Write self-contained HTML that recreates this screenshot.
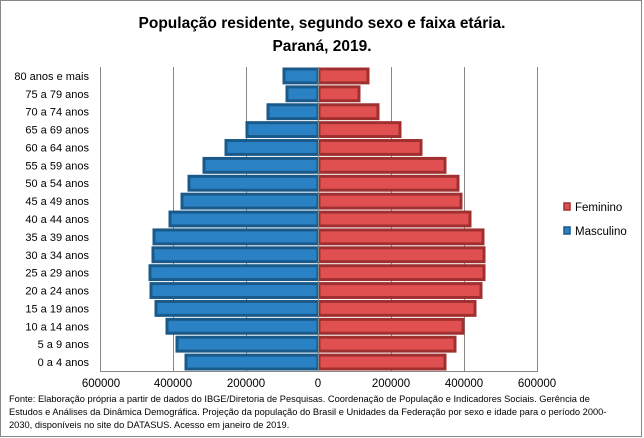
<!DOCTYPE html>
<html><head><meta charset="utf-8"><style>
body{margin:0;background:#fff}
svg{display:block;font-family:"Liberation Sans",sans-serif}
</style></head><body>
<svg width="644" height="438" viewBox="0 0 644 438">
<rect x="0.5" y="0.5" width="641" height="436" fill="#fff" stroke="#888"/>
<text x="322" y="28" text-anchor="middle" font-size="15.5" font-weight="bold">População residente, segundo sexo e faixa etária.</text>
<text x="322" y="51" text-anchor="middle" font-size="15.5" font-weight="bold">Paraná, 2019.</text>
<g stroke="#888" stroke-width="1">
<line x1="100.5" y1="67" x2="100.5" y2="371"/>
<line x1="173.5" y1="67" x2="173.5" y2="371"/>
<line x1="246.5" y1="67" x2="246.5" y2="371"/>
<line x1="391.5" y1="67" x2="391.5" y2="371"/>
<line x1="464.5" y1="67" x2="464.5" y2="371"/>
<line x1="537.5" y1="67" x2="537.5" y2="371"/>
<line x1="100" y1="371.5" x2="538" y2="371.5"/>
</g>
<g id="bars" stroke-width="3"></g>
<line x1="318.5" y1="67" x2="318.5" y2="371" stroke="#888"/>
<g id="labels" font-size="11" text-anchor="end"></g>
<g font-size="11.5" text-anchor="middle">
<text x="101" y="387">600000</text><text x="173" y="387">400000</text><text x="246" y="387">200000</text>
<text x="318" y="387">0</text><text x="391" y="387">200000</text><text x="464" y="387">400000</text><text x="537" y="387">600000</text>
</g>
<rect x="564" y="203" width="6" height="7" fill="#e05050" stroke="#a03030" stroke-width="1.5"/>
<text x="575" y="211" font-size="11.5">Feminino</text>
<rect x="564" y="227" width="6" height="7" fill="#2a82c4" stroke="#1a5a8a" stroke-width="1.5"/>
<text x="575" y="235" font-size="11.5">Masculino</text>
<g font-size="9.3">
<text x="9" y="402">Fonte:  Elaboração própria a partir de dados do  IBGE/Diretoria de Pesquisas. Coordenação de População e Indicadores Sociais. Gerência de</text>
<text x="9" y="415">Estudos e Análises da Dinâmica Demográfica. Projeção da população do Brasil e Unidades da Federação por sexo e idade para o período 2000-</text>
<text x="9" y="428">2030, disponíveis no site do DATASUS. Acesso em  janeiro de 2019.</text>
</g>
</svg>
<script>
(function(){
var labs=["80 anos e mais","75 a 79 anos","70 a 74 anos","65 a 69 anos","60 a 64 anos","55 a 59 anos","50 a 54 anos","45 a 49 anos","40 a 44 anos","35 a 39 anos","30 a 34 anos","25 a 29 anos","20 a 24 anos","15 a 19 anos","10 a 14 anos","5 a 9 anos","0 a 4 anos"];
var m=[284,287,268,247,226,204,189,182,170,154,153,150,151,156,167,177,186];
var f=[368,359,378,400,421,445,458,461,470,483,484,484,481,475,463,455,445];
var ns="http://www.w3.org/2000/svg",b=document.getElementById("bars"),l=document.getElementById("labels");
var y0=67,band=(371-67)/17;
for(var i=0;i<17;i++){
 var y=y0+i*band+2,h=band-4;
 var r=document.createElementNS(ns,"rect");
 r.setAttribute("x",m[i]);r.setAttribute("y",y);r.setAttribute("width",318-m[i]);r.setAttribute("height",h);
 r.setAttribute("fill","#2a82c4");r.setAttribute("stroke","#1a5a8a");b.appendChild(r);
 r=document.createElementNS(ns,"rect");
 r.setAttribute("x",319);r.setAttribute("y",y);r.setAttribute("width",f[i]-319);r.setAttribute("height",h);
 r.setAttribute("fill","#e05050");r.setAttribute("stroke","#a03030");b.appendChild(r);
 var t=document.createElementNS(ns,"text");t.setAttribute("x",89);t.setAttribute("y",y0+(i+0.5)*band+4);
 t.textContent=labs[i];l.appendChild(t);
}
})();
</script>
</body></html>
